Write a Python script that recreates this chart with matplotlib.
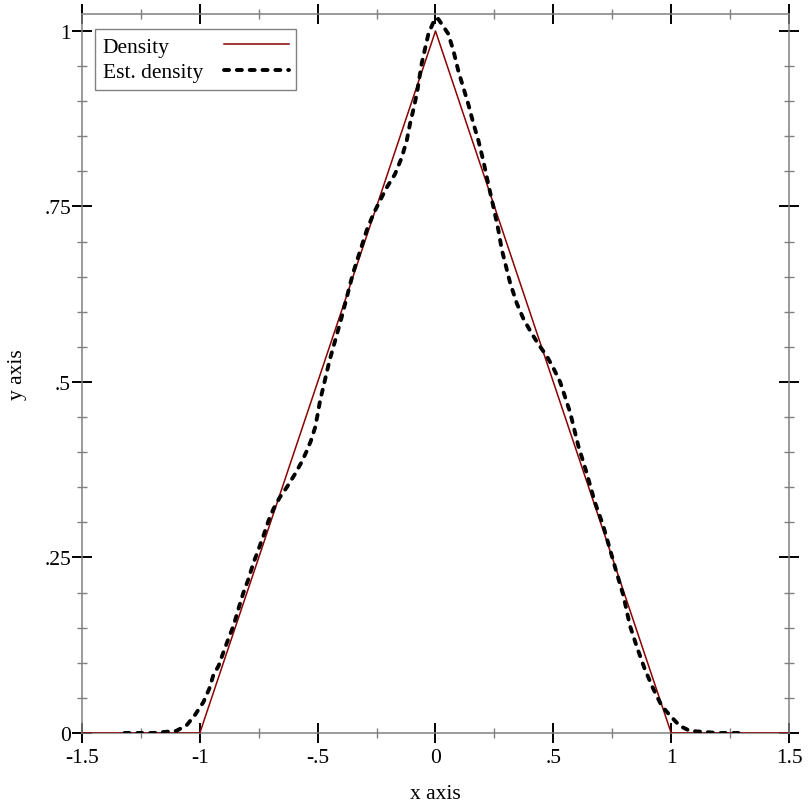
import matplotlib
matplotlib.use("Agg")
import matplotlib.pyplot as plt
from matplotlib.ticker import FixedLocator, MultipleLocator, FuncFormatter

# true density (triangle)
density_x = [-1.5, -1.0, 0.0, 1.0, 1.5]
density_y = [0.0, 0.0, 1.0, 0.0, 0.0]

# estimated density
est_x = [
    -1.32, -1.2, -1.10, -1.056, -1.02, -0.985, -0.96, -0.943, -0.92, -0.90,
    -0.879, -0.857, -0.836, -0.815, -0.794, -0.772, -0.758, -0.73, -0.709,
    -0.688, -0.66, -0.631, -0.596, -0.568, -0.546, -0.529, -0.511, -0.50,
    -0.49, -0.45, -0.40, -0.35, -0.292, -0.264, -0.236, -0.207, -0.172,
    -0.143, -0.122, -0.108, -0.091, -0.077, -0.059, -0.03, -0.002, 0.012,
    0.054, 0.076, 0.097, 0.122, 0.139, 0.161, 0.182, 0.203, 0.224, 0.246,
    0.267, 0.281, 0.316, 0.345, 0.373, 0.405, 0.436, 0.472, 0.50, 0.529,
    0.571, 0.606, 0.641, 0.676, 0.712, 0.740, 0.768, 0.797, 0.825, 0.853,
    0.888, 0.924, 0.959, 0.995, 1.023, 1.037, 1.08, 1.2, 1.305,
]
est_y = [
    0.0, 0.0, 0.003, 0.011, 0.026, 0.044, 0.063, 0.082, 0.096, 0.115,
    0.134, 0.153, 0.177, 0.200, 0.219, 0.243, 0.255, 0.281, 0.302,
    0.319, 0.336, 0.350, 0.369, 0.386, 0.402, 0.416, 0.435, 0.454,
    0.473, 0.53, 0.59, 0.655, 0.716, 0.739, 0.758, 0.777, 0.796,
    0.820, 0.844, 0.868, 0.892, 0.915, 0.953, 0.996, 1.018, 1.017,
    0.996, 0.972, 0.943, 0.915, 0.896, 0.868, 0.844, 0.815, 0.782, 0.749,
    0.716, 0.689, 0.642, 0.612, 0.590, 0.571, 0.554, 0.537, 0.52, 0.500,
    0.457, 0.409, 0.371, 0.329, 0.295, 0.262, 0.229, 0.196, 0.153, 0.124,
    0.091, 0.063, 0.039, 0.025, 0.015, 0.010, 0.003, 0.0, 0.0,
]

x_ticks = [-1.5, -1.0, -0.5, 0.0, 0.5, 1.0, 1.5]
x_tick_labels = ["-1.5", "-1", "-.5", "0", ".5", "1", "1.5"]
y_ticks = [0.0, 0.25, 0.5, 0.75, 1.0]
y_tick_labels = ["0", ".25", ".5", ".75", "1"]

plt.rcParams["font.family"] = ["Liberation Serif", "DejaVu Serif"]
plt.rcParams["font.size"] = 15.5

GRAY = "#808080"

fig = plt.figure(figsize=(8.12, 8.12), dpi=100)
ax = fig.add_axes([82 / 812, 78 / 812, 707 / 812, 719 / 812])

ax.plot(density_x, density_y, color="#8b0000", linewidth=1.1,
        label="Density", zorder=3)
ax.plot(est_x, est_y, color="black", linewidth=2.8, dashes=(1.3, 2.0),
        dash_capstyle="round", label="Est. density", zorder=4)

ax.set_xlim(-1.5, 1.5)
ax.set_ylim(0, 1.0242)

for spine in ax.spines.values():
    spine.set_color(GRAY)
    spine.set_linewidth(1.1)

ax.xaxis.set_major_locator(FixedLocator(x_ticks))
ax.xaxis.set_major_formatter(FuncFormatter(lambda v, i: x_tick_labels[i]))
ax.xaxis.set_minor_locator(MultipleLocator(0.25))
ax.yaxis.set_major_locator(FixedLocator(y_ticks))
ax.yaxis.set_major_formatter(FuncFormatter(lambda v, i: y_tick_labels[i]))
ax.yaxis.set_minor_locator(MultipleLocator(0.05))

ax.tick_params(which="both", direction="inout", top=True, right=True)
ax.tick_params(which="major", length=14, width=1.4, color="black")
ax.tick_params(axis="x", which="major", pad=4)
ax.tick_params(axis="y", which="major", pad=1)
ax.tick_params(which="minor", length=7, width=1.0, color=GRAY)

ax.set_xlabel("x axis", labelpad=12)
ax.set_ylabel("y axis", labelpad=12)

legend = ax.legend(
    loc="upper left",
    bbox_to_anchor=(13 / 707, 1 - 15 / 719),
    borderaxespad=0,
    markerfirst=False,
    handlelength=3.0,
    handletextpad=1.0,
    labelspacing=0.25,
    borderpad=0.35,
    fancybox=False,
    framealpha=1,
    edgecolor=GRAY,
)
legend.get_frame().set_linewidth(1.0)

# left-align the labels: widen the gap after the shorter label
fig.canvas.draw()
renderer = fig.canvas.get_renderer()
widths = [t.get_window_extent(renderer).width for t in legend.get_texts()]
column = legend._legend_handle_box.get_children()[0]
for row, width in zip(column.get_children(), widths):
    row.sep += (max(widths) - width) * 72 / fig.dpi

fig.savefig("out.png", dpi=100)
